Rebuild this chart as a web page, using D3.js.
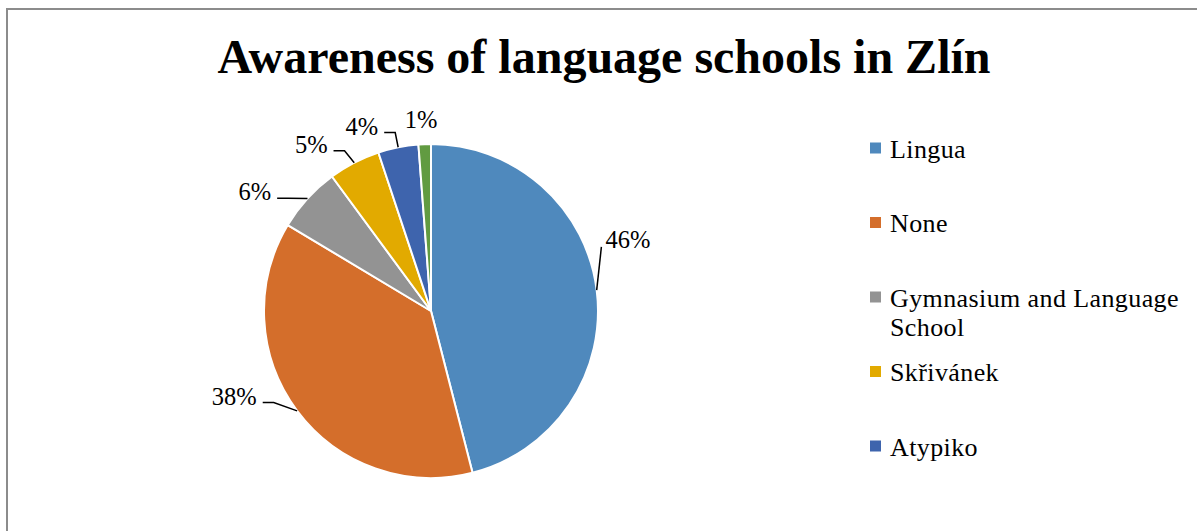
<!DOCTYPE html>

<head>
  <meta charset="utf-8">
  <script src="https://d3js.org/d3.v7.min.js"></script>
  <style>
    body { margin: 0; background: #fff; }
    svg { display: block; font-family: "Liberation Serif", "Times New Roman", serif; }
    .titleLabel { font-size: 48px; font-weight: bold; fill: #000; }
    .pctLabel { font-size: 24.5px; fill: #000; }
    .legendLabel { font-size: 26px; fill: #000; letter-spacing: 0.4px; }
  </style>
</head>

<body>
  <script>
    // chart data
    var schools = ['Lingua', 'None', 'Gymnasium and Language School', 'Skřivánek', 'Atypiko', 'Other'];
    var shares = [46.0, 37.6, 6.3, 5.0, 3.9, 1.2];
    var sliceColors = ['#4F89BD', '#D46E2B', '#939393', '#E2AA00', '#3E64AD', '#619B41'];
    var titleText = 'Awareness of language schools in Zlín';

    // outer size of the page
    var outerWidth = 1197,
      outerHeight = 531;

    // pie placement
    var cx = 431,
      cy = 311,
      radius = 167;

    // small angle nudges (degrees) for the label leaders, like excel's "best fit"
    var labelShift = [-13.4, 6.5, -4, -1, 0, 0];

    var svg = d3.select('body')
      .append('svg')
      .attr('width', outerWidth)
      .attr('height', outerHeight);

    // grey frame round the chart area (right and bottom edges run off the page)
    svg.append('rect')
      .attr('x', 7)
      .attr('y', 9)
      .attr('width', 1210)
      .attr('height', 540)
      .attr('fill', '#fff')
      .attr('stroke', '#8c8c8c')
      .attr('stroke-width', 2);

    svg.append('text')
      .attr('class', 'titleLabel')
      .attr('x', 604)
      .attr('y', 73)
      .attr('text-anchor', 'middle')
      .text(titleText);

    var rows = schools.map(function(name, i) {
      return { name: name, value: shares[i], color: sliceColors[i], shift: labelShift[i] };
    });

    // pie starts at 12 o'clock and goes clockwise, keep the data order
    var pie = d3.pie()
      .sort(null)
      .value(function(d) { return d.value; });

    var arc = d3.arc()
      .innerRadius(0)
      .outerRadius(radius);

    var arcs = pie(rows);

    var g = svg.append('g')
      .attr('transform', 'translate(' + cx + ' ' + cy + ')');

    g.selectAll('path.slice')
      .data(arcs)
      .enter()
      .append('path')
      .attr('class', 'slice')
      .attr('d', arc)
      .attr('fill', function(d) { return d.data.color; })
      .attr('stroke', '#fff')
      .attr('stroke-width', 2);

    // helper: point at radius r and angle a (radians, clockwise from top)
    function polar(r, a) {
      return [r * Math.sin(a), -r * Math.cos(a)];
    }

    arcs.forEach(function(d) {
      var mid = (d.startAngle + d.endAngle) / 2;
      var a = mid + d.data.shift * Math.PI / 180;
      var p0 = polar(radius, mid);
      var p1 = polar(radius * 1.09, a);
      var label = Math.round(d.data.value) + '%';

      // tiny slice: label sits right above it, no leader
      if (d.data.value < 2) {
        g.append('text')
          .attr('class', 'pctLabel')
          .attr('x', p1[0] - 3)
          .attr('y', p1[1] - 1)
          .attr('text-anchor', 'middle')
          .text(label);
        return;
      }

      var right = Math.sin(a) > 0;
      var p2 = right ? p1 : [p1[0] - 11, p1[1]];

      g.append('path')
        .attr('d', d3.line()([p0, p1, p2]))
        .attr('fill', 'none')
        .attr('stroke', '#000')
        .attr('stroke-width', 1.5);

      g.append('text')
        .attr('class', 'pctLabel')
        .attr('x', right ? p2[0] + 4 : p2[0] - 6)
        .attr('y', p2[1] + (right ? 1 : 2))
        .attr('text-anchor', right ? 'start' : 'end')
        .text(label);
    });

    // legend on the right, one row every 74.5px, long names wrap
    var legendX = 870,
      legendTop = 148,
      legendStep = 74.5,
      legendWrap = 300,
      lineHeight = 29.5;

    var legend = svg.append('g');

    rows.forEach(function(d, i) {
      var yc = legendTop + i * legendStep;
      if (yc > outerHeight - 20) return; // the last entry is clipped in the original

      legend.append('rect')
        .attr('x', legendX)
        .attr('y', yc - 5.5)
        .attr('width', 11)
        .attr('height', 11)
        .attr('fill', d.color);

      var t = legend.append('text')
        .attr('class', 'legendLabel')
        .attr('x', legendX + 20)
        .attr('y', yc + 9.5);

      var words = d.name.split(' '),
        line = [],
        tspan = t.append('tspan').attr('x', legendX + 20).attr('dy', 0);

      words.forEach(function(w) {
        line.push(w);
        tspan.text(line.join(' '));
        if (tspan.node().getComputedTextLength() > legendWrap && line.length > 1) {
          line.pop();
          tspan.text(line.join(' '));
          line = [w];
          tspan = t.append('tspan').attr('x', legendX + 20).attr('dy', lineHeight).text(w);
        }
      });
    });
  </script>
</body>
